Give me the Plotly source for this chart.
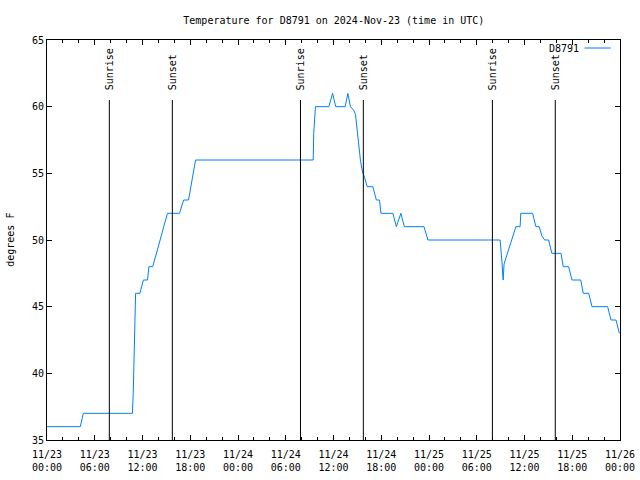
import plotly.graph_objects as go

# ---- data ----
times = [
    "2024-11-23 00:00", "2024-11-23 04:11", "2024-11-23 04:34", "2024-11-23 10:44",
    "2024-11-23 10:50", "2024-11-23 10:55", "2024-11-23 11:01", "2024-11-23 11:08",
    "2024-11-23 11:40", "2024-11-23 12:07", "2024-11-23 12:38", "2024-11-23 12:48",
    "2024-11-23 13:17", "2024-11-23 13:47", "2024-11-23 14:13", "2024-11-23 14:40",
    "2024-11-23 15:08", "2024-11-23 16:39", "2024-11-23 17:10", "2024-11-23 17:47",
    "2024-11-23 18:11", "2024-11-23 18:40",
    "2024-11-24 09:27", "2024-11-24 09:31", "2024-11-24 09:44", "2024-11-24 11:25",
    "2024-11-24 11:53", "2024-11-24 12:17", "2024-11-24 13:28", "2024-11-24 13:48",
    "2024-11-24 14:08", "2024-11-24 14:34", "2024-11-24 14:46", "2024-11-24 14:54",
    "2024-11-24 15:04", "2024-11-24 15:14", "2024-11-24 15:24", "2024-11-24 15:39",
    "2024-11-24 15:54", "2024-11-24 16:14", "2024-11-24 16:57", "2024-11-24 17:23",
    "2024-11-24 17:47", "2024-11-24 17:58", "2024-11-24 19:28", "2024-11-24 19:54",
    "2024-11-24 20:28", "2024-11-24 20:54", "2024-11-24 23:22", "2024-11-24 23:52",
    "2024-11-25 08:56", "2024-11-25 09:09", "2024-11-25 09:19", "2024-11-25 09:26",
    "2024-11-25 10:55", "2024-11-25 11:27", "2024-11-25 11:32", "2024-11-25 13:01",
    "2024-11-25 13:26", "2024-11-25 13:51", "2024-11-25 14:11", "2024-11-25 14:32",
    "2024-11-25 15:02", "2024-11-25 15:26", "2024-11-25 16:35", "2024-11-25 16:52",
    "2024-11-25 17:33", "2024-11-25 17:58", "2024-11-25 19:04", "2024-11-25 19:23",
    "2024-11-25 20:04", "2024-11-25 20:29", "2024-11-25 22:27", "2024-11-25 22:52",
    "2024-11-25 23:30", "2024-11-25 23:55",
]
temps = [
    36, 36, 37, 37,
    38.5, 41.5, 44.5, 46,
    46, 47, 47, 48,
    48, 49, 50, 51,
    52, 52, 53, 53,
    54.5, 56,
    56, 58, 60, 60,
    61, 60, 60, 61,
    60, 59.7, 59.4, 58.6,
    57.6, 56.7, 55.9, 55.1,
    54.7, 54, 54, 53,
    53, 52, 52, 51,
    52, 51, 51, 50,
    50, 48.5, 47, 48.2,
    51, 51, 52, 52,
    51, 51, 50.3, 50,
    50, 49, 49, 48,
    48, 47, 47, 46,
    46, 45, 45, 44,
    44, 43,
]

sunrise_times = ["2024-11-23 07:50", "2024-11-24 07:51", "2024-11-25 07:58"]
sunset_times = ["2024-11-23 15:45", "2024-11-24 15:45", "2024-11-25 15:52"]

tick_vals = [
    "2024-11-23 00:00", "2024-11-23 06:00", "2024-11-23 12:00", "2024-11-23 18:00",
    "2024-11-24 00:00", "2024-11-24 06:00", "2024-11-24 12:00", "2024-11-24 18:00",
    "2024-11-25 00:00", "2024-11-25 06:00", "2024-11-25 12:00", "2024-11-25 18:00",
    "2024-11-26 00:00",
]
tick_text = [
    "11/23<br>00:00", "11/23<br>06:00", "11/23<br>12:00", "11/23<br>18:00",
    "11/24<br>00:00", "11/24<br>06:00", "11/24<br>12:00", "11/24<br>18:00",
    "11/25<br>00:00", "11/25<br>06:00", "11/25<br>12:00", "11/25<br>18:00",
    "11/26<br>00:00",
]
y_ticks = [35, 40, 45, 50, 55, 60, 65]

FONT = "DejaVu Sans Mono"
LINE_COLOR = "rgb(0,128,255)"

fig = go.Figure()
fig.add_trace(go.Scatter(x=times, y=temps, mode="lines",
                         line=dict(color=LINE_COLOR, width=1),
                         name="D8791", showlegend=False))

annotations = []
shapes = []
for label, ts in (("Sunrise", sunrise_times), ("Sunset", sunset_times)):
    for t in ts:
        shapes.append(dict(type="line", xref="x", yref="paper", x0=t, x1=t,
                           y0=0, y1=0.85, line=dict(color="black", width=1)))
        annotations.append(dict(x=t, xref="x", y=0.87, yref="paper", text=label,
                                textangle=-90, showarrow=False, xanchor="center",
                                yanchor="bottom", font=dict(family=FONT, size=10, color="black")))

# legend (gnuplot style: text then sample)
annotations.append(dict(x=0.932, xref="paper", y=0.98, yref="paper", text="D8791",
                        showarrow=False, xanchor="right", yanchor="middle",
                        font=dict(family=FONT, size=10, color="black")))
shapes.append(dict(type="line", xref="paper", yref="paper", x0=0.938, x1=0.984,
                   y0=0.98, y1=0.98, line=dict(color=LINE_COLOR, width=1)))

# y axis title
annotations.append(dict(x=-0.065, xref="paper", y=0.5, yref="paper", text="degrees F",
                        textangle=-90, showarrow=False, xanchor="center", yanchor="middle",
                        font=dict(family=FONT, size=10, color="black")))

fig.update_layout(
    width=640, height=480,
    margin=dict(l=47, r=20, t=40, b=40, autoexpand=False),
    paper_bgcolor="white", plot_bgcolor="white",
    font=dict(family=FONT, size=10, color="black"),
    title=dict(text="Temperature for D8791 on 2024-Nov-23 (time in UTC)",
               x=0.5216, xanchor="center", y=1 - 20 / 480, yanchor="middle",
               yref="container", font=dict(family=FONT, size=10, color="black")),
    showlegend=False,
    annotations=annotations,
    shapes=shapes,
)
fig.update_xaxes(
    type="date", range=["2024-11-23 00:00", "2024-11-26 00:00"],
    tickvals=tick_vals, ticktext=tick_text, tickangle=0, automargin=False,
    showgrid=False, zeroline=False, showline=True, linecolor="black", linewidth=1,
    mirror="allticks", ticks="inside", ticklen=5, tickcolor="black",
    ticklabelstandoff=5,
    minor=dict(dtick=2 * 3600 * 1000, tick0="2024-11-23 00:00", ticks="inside",
               ticklen=3, tickcolor="black", showgrid=False),
    tickfont=dict(family=FONT, size=10, color="black"),
)
fig.update_yaxes(
    range=[35, 65], tickvals=y_ticks, ticktext=[str(v) for v in y_ticks], automargin=False,
    showgrid=False, zeroline=False, showline=True, linecolor="black", linewidth=1,
    mirror="allticks", ticks="inside", ticklen=5, tickcolor="black",
    tickfont=dict(family=FONT, size=10, color="black"),
)

fig.write_html("out.html")
